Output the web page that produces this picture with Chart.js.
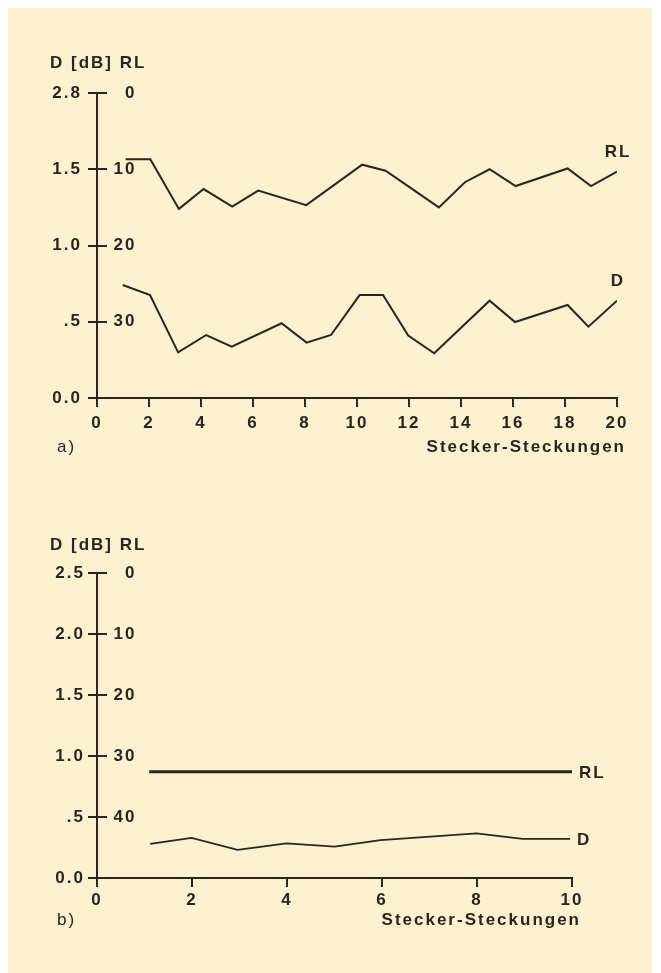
<!DOCTYPE html>
<html>
<head>
<meta charset="utf-8">
<script src="https://cdn.jsdelivr.net/npm/chart.js@4.4.1/dist/chart.umd.min.js"></script>
<style>
  html, body { margin: 0; padding: 0; background: #ffffff; }
  #paper { position: absolute; left: 8px; top: 8px; width: 644px; height: 965px; background: #fcf0cf; }
  canvas { position: absolute; left: 50px; }
  #chart-a { top: 50px; }
  #chart-b { top: 532px; }
</style>
</head>
<body>
<div id="paper"></div>
<canvas id="chart-a" width="600" height="410"></canvas>
<canvas id="chart-b" width="600" height="406"></canvas>
<script>
// a) 20 plug-ins
const stepsRlA = [1.1, 2.05, 3.15, 4.1, 5.2, 6.2, 8.05, 10.2, 11.1, 13.15, 14.15, 15.1, 16.1, 18.1, 19.0, 20.0];
const rlA = [8.7, 8.7, 15.2, 12.6, 14.9, 12.8, 14.7, 9.4, 10.2, 15.0, 11.7, 10.0, 12.2, 9.9, 12.2, 10.3];
const stepsDA = [0.99, 2.04, 3.12, 4.2, 5.18, 7.1, 8.06, 9.0, 10.1, 11.0, 11.97, 12.97, 15.1, 16.08, 18.1, 18.9, 20.0];
const dA = [0.741, 0.675, 0.299, 0.413, 0.336, 0.49, 0.363, 0.413, 0.675, 0.675, 0.409, 0.293, 0.638, 0.498, 0.61, 0.468, 0.638];
const dTicksA = [0, 0.5, 1.0, 1.5, 2.0];
const dLabelsA = ['0.0', '.5', '1.0', '1.5', '2.8'];
const rlTicksA = [0, 10, 20, 30];

// b) 10 plug-ins
const stepsRlB = [1.1, 2, 3, 4, 5, 6, 7, 8, 9, 10];
const rlB = [32.6, 32.6, 32.6, 32.6, 32.6, 32.6, 32.6, 32.6, 32.6, 32.6];
const stepsDB = [1.12, 1.99, 2.96, 3.99, 5.0, 5.97, 7.99, 8.96, 9.96];
const dB = [0.279, 0.328, 0.23, 0.284, 0.257, 0.311, 0.366, 0.32, 0.32];
const dTicksB = [0, 0.5, 1.0, 1.5, 2.0, 2.5];
const dLabelsB = ['0.0', '.5', '1.0', '1.5', '2.0', '2.5'];
const rlTicksB = [0, 10, 20, 30, 40];

const xTitle = 'Stecker-Steckungen';
const ink = '#2b2522';
const spacing = '2px';
const fontFamily = '"Liberation Sans", Arial, sans-serif';

Chart.defaults.font.family = fontFamily;
Chart.defaults.font.size = 17;
Chart.defaults.font.weight = 'bold';
Chart.defaults.color = ink;

const letterSpacing = {
  id: 'letterSpacing',
  beforeUpdate(chart) { chart.ctx.letterSpacing = spacing; },
  beforeDraw(chart) { chart.ctx.letterSpacing = spacing; },
};

function toPoints(xs, ys) {
  return xs.map((x, i) => ({ x: x, y: ys[i] }));
}

function decorations(cfg) {
  return {
    id: 'decorations',
    afterDraw(chart) {
      const ctx = chart.ctx;
      const yScale = chart.scales.y;
      const area = chart.chartArea;
      ctx.save();
      ctx.letterSpacing = spacing;

      // tick stubs on the RL side of the axis
      ctx.strokeStyle = ink;
      ctx.lineWidth = 2;
      yScale.ticks.forEach((t, i) => {
        const py = Math.round(yScale.getPixelForTick(i));
        ctx.beginPath();
        ctx.moveTo(yScale.right, py);
        ctx.lineTo(yScale.right + 10, py);
        ctx.stroke();
      });

      // series names at the line ends
      ctx.fillStyle = ink;
      ctx.font = 'bold 17px ' + fontFamily;
      ctx.textBaseline = 'middle';
      chart.data.datasets.forEach((ds, i) => {
        const pts = chart.getDatasetMeta(i).data;
        const end = pts[pts.length - 1];
        ctx.textAlign = cfg.labelPos.align;
        ctx.fillText(ds.label, end.x + cfg.labelPos.dx, end.y + cfg.labelPos.dy);
      });

      // axis name, right-aligned a little past the axis end
      const titleY = area.bottom + cfg.titleOffset;
      ctx.textAlign = 'right';
      ctx.fillText(xTitle, area.right + 9, titleY);

      // panel letter
      ctx.font = '17px ' + fontFamily;
      ctx.textAlign = 'left';
      ctx.fillText(cfg.panel, area.left - 40, titleY);
      ctx.restore();
    },
  };
}

function makeChart(id, cfg) {
  return new Chart(document.getElementById(id), {
    type: 'line',
    data: {
      datasets: [
        {
          label: 'RL',
          yAxisID: 'yRL',
          data: toPoints(cfg.rlSteps, cfg.rl),
          borderColor: ink,
          borderWidth: cfg.rlWidth,
          borderJoinStyle: 'miter',
          pointRadius: 0,
          tension: 0,
        },
        {
          label: 'D',
          yAxisID: 'y',
          data: toPoints(cfg.dSteps, cfg.d),
          borderColor: ink,
          borderWidth: cfg.dWidth,
          borderJoinStyle: 'miter',
          pointRadius: 0,
          tension: 0,
        },
      ],
    },
    options: {
      responsive: false,
      animation: false,
      layout: { padding: { left: 0, right: cfg.padRight, top: 0, bottom: 0 } },
      plugins: {
        legend: { display: false },
        tooltip: { enabled: false },
        title: {
          display: true,
          text: 'D [dB] RL',
          align: 'start',
          color: ink,
          font: { size: 17, weight: 'bold' },
          padding: { top: 3, bottom: cfg.titleGap },
        },
      },
      scales: {
        x: {
          type: 'linear',
          min: 0,
          max: cfg.xMax,
          afterFit: (s) => { s.height = cfg.xHeight; },
          ticks: { stepSize: 2, padding: cfg.xTickPad, color: ink, maxRotation: 0, autoSkip: false },
          grid: { drawOnChartArea: false, drawTicks: true, tickLength: 9, color: ink, lineWidth: 2 },
          border: { display: true, color: ink, width: 2 },
        },
        y: {
          type: 'linear',
          position: 'left',
          weight: 1,
          min: 0,
          max: cfg.dMax,
          afterFit: (s) => { s.width = 47; },
          afterBuildTicks: (s) => { s.ticks = cfg.dTicks.map((v) => ({ value: v })); },
          ticks: {
            padding: cfg.yTickPad,
            color: ink,
            callback: (v, i) => cfg.dLabels[i],
          },
          grid: { drawOnChartArea: false, drawTicks: true, tickLength: 9, color: ink, lineWidth: 2 },
          border: { display: true, color: ink, width: 2 },
        },
        yRL: {
          type: 'linear',
          position: 'left',
          weight: 0,
          reverse: true,
          min: 0,
          max: cfg.rlMax,
          afterFit: (s) => { s.width = 0; },
          afterBuildTicks: (s) => { s.ticks = cfg.rlTicks.map((v) => ({ value: v })); },
          ticks: { mirror: true, crossAlign: 'far', padding: 16.5, color: ink },
          grid: { display: false, drawTicks: false },
          border: { display: false },
        },
      },
    },
    plugins: [letterSpacing, decorations(cfg)],
  });
}

makeChart('chart-a', {
  rlSteps: stepsRlA, rl: rlA, dSteps: stepsDA, d: dA,
  dTicks: dTicksA, dLabels: dLabelsA, rlTicks: rlTicksA,
  dMax: 2.0, rlMax: 40, xMax: 20,
  rlWidth: 2, dWidth: 2,
  padRight: 33, titleGap: 19.6, xHeight: 62, xTickPad: 6.3, yTickPad: 6,
  titleOffset: 49,
  panel: 'a)', labelPos: { align: 'center', dx: 1, dy: -19 },
});

makeChart('chart-b', {
  rlSteps: stepsRlB, rl: rlB, dSteps: stepsDB, d: dB,
  dTicks: dTicksB, dLabels: dLabelsB, rlTicks: rlTicksB,
  dMax: 2.5, rlMax: 50, xMax: 10,
  rlWidth: 3, dWidth: 1.7,
  padRight: 78, titleGap: 17.6, xHeight: 60, xTickPad: 2.8, yTickPad: 3,
  titleOffset: 42,
  panel: 'b)', labelPos: { align: 'left', dx: 7, dy: 1 },
});
</script>
</body>
</html>
